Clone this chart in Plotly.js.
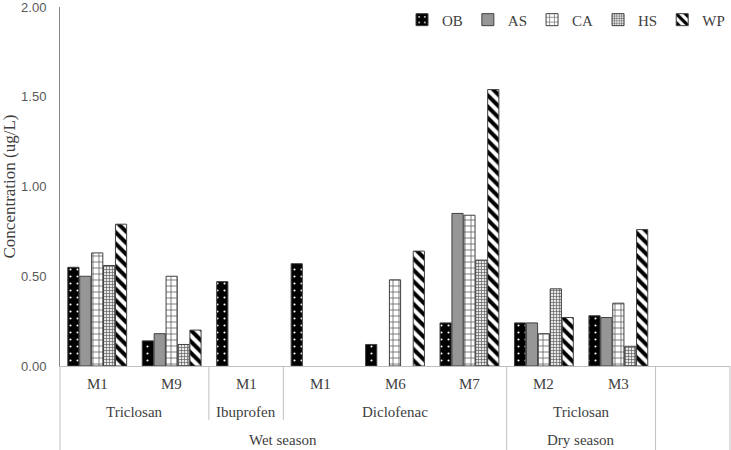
<!DOCTYPE html>
<html>
<head>
<meta charset="utf-8">
<script src="https://cdn.plot.ly/plotly-3.0.1.min.js"></script>
<style>html,body{margin:0;padding:0;background:#fff;}#chart{width:731px;height:450px;}</style>
</head>
<body>
<div id="chart"></div>
<script>
// ---- data ----
const sites   = ['M1','M9','M1','M1','M6','M7','M2','M3',''];
const drugs   = ['Triclosan','Triclosan','Ibuprofen','Diclofenac','Diclofenac','Diclofenac','Triclosan','Triclosan',''];
const seasons = ['Wet season','Wet season','Wet season','Wet season','Wet season','Wet season','Dry season','Dry season',''];
const seriesNames = ['OB','AS','CA','HS','WP'];
const OB = [0.55, 0.14, 0.47, 0.57, 0.12, 0.24, 0.24, 0.28];
const AS = [0.50, 0.18, null, null, null, 0.85, 0.24, 0.27];
const CA = [0.63, 0.50, null, null, 0.48, 0.84, 0.18, 0.35];
const HS = [0.56, 0.12, null, null, null, 0.59, 0.43, 0.11];
const WP = [0.79, 0.20, null, null, 0.64, 1.54, 0.27, 0.76];
const yTicks = [0, 0.5, 1.0, 1.5, 2.0];

// ---- styles ----
const W = 731, H = 450;
const margin = {l: 60, r: 1, t: 7, b: 84, pad: 0};
const plotH = H - margin.t - margin.b;
const serif = 'Liberation Serif, Times New Roman, serif';
const txtColor = '#404040';
const outline = {color: '#404040', width: 1};
const styles = [
  {color: '#000000', pattern: {shape: '.', fgcolor: '#ffffff', bgcolor: '#000000', size: 7, solidity: 0.07, fillmode: 'replace'}},
  {color: '#969696'},
  {color: '#ffffff', pattern: {shape: '+', fgcolor: '#606060', bgcolor: '#ffffff', size: 6, solidity: 0.25, fillmode: 'replace'}},
  {color: '#d0d0d0', pattern: {shape: '+', fgcolor: '#606060', bgcolor: '#e8e8e8', size: 3, solidity: 0.4, fillmode: 'replace'}},
  {color: '#ffffff', pattern: {shape: '\\', fgcolor: '#000000', bgcolor: '#ffffff', size: 8, solidity: 0.5, fillmode: 'replace'}}
];
const allValues = [OB, AS, CA, HS, WP];
const xIdx = OB.map((_, i) => i);

const traces = seriesNames.map((name, k) => {
  const m = Object.assign({line: outline}, styles[k]);
  return {type: 'bar', name: name, x: xIdx, y: allValues[k], marker: m, hoverinfo: 'x+y+name'};
});

// ---- hierarchical x axis labels ----
const nCat = sites.length;
const xMin = -0.5, xMax = nCat - 0.5;
const toPaper = v => (v - xMin) / (xMax - xMin);
const annotations = [];
const shapes = [];
const lineColor = '#bfbfbf';
const siteY = 18, drugY = 46, seasonY = 74, drugLineY = 54, fullLineY = margin.b;

sites.forEach((s, i) => {
  if (s) annotations.push({xref: 'x', yref: 'paper', x: i, y: 0, yshift: -siteY, yanchor: 'middle', showarrow: false, text: s, font: {family: serif, size: 15, color: txtColor}});
});
function runs(keys) {
  const out = []; let start = 0;
  for (let i = 1; i <= keys.length; i++) {
    if (i === keys.length || keys[i] !== keys[start]) { out.push({start, end: i - 1, key: keys[start]}); start = i; }
  }
  return out;
}
const drugRuns = runs(drugs.map((d, i) => seasons[i] + '|' + d));
const seasonRuns = runs(seasons);
drugRuns.forEach(r => {
  const lab = drugs[r.start];
  if (lab) annotations.push({xref: 'x', yref: 'paper', x: (r.start + r.end) / 2, y: 0, yshift: -drugY, yanchor: 'middle', showarrow: false, text: lab, font: {family: serif, size: 15, color: txtColor}});
});
seasonRuns.forEach(r => {
  const lab = r.key;
  if (lab) annotations.push({xref: 'x', yref: 'paper', x: (r.start + r.end) / 2, y: 0, yshift: -seasonY, yanchor: 'middle', showarrow: false, text: lab, font: {family: serif, size: 15, color: txtColor}});
});
const seasonBounds = new Set();
seasonRuns.forEach(r => { seasonBounds.add(r.start - 0.5); seasonBounds.add(r.end + 0.5); });
const drugBounds = new Set();
drugRuns.forEach(r => { drugBounds.add(r.start - 0.5); drugBounds.add(r.end + 0.5); });
seasonBounds.forEach(b => {
  shapes.push({type: 'line', xref: 'paper', yref: 'paper', x0: toPaper(b), x1: toPaper(b), y0: 0, y1: -fullLineY / plotH, line: {color: lineColor, width: 1}});
});
drugBounds.forEach(b => {
  if (!seasonBounds.has(b)) shapes.push({type: 'line', xref: 'paper', yref: 'paper', x0: toPaper(b), x1: toPaper(b), y0: 0, y1: -drugLineY / plotH, line: {color: lineColor, width: 1}});
});

const layout = {
  width: W, height: H, margin: margin,
  paper_bgcolor: '#ffffff', plot_bgcolor: '#ffffff',
  barmode: 'group', bargap: 0.2, bargroupgap: 0.06,
  showlegend: true,
  legend: {orientation: 'h', x: 1.0, xanchor: 'right', y: 1.01, yanchor: 'top', font: {family: serif, size: 15, color: txtColor},
           itemwidth: 30, bgcolor: 'rgba(0,0,0,0)', tracegroupgap: 0},
  xaxis: {range: [xMin, xMax], showticklabels: false, showgrid: false, zeroline: false, showline: true, linecolor: lineColor, linewidth: 1, ticks: '', fixedrange: true},
  yaxis: {range: [0, 2], tickvals: yTicks, tickformat: '.2f', showgrid: false, zeroline: false, showline: true, linecolor: '#868686', linewidth: 1, ticks: '',
          ticklabelstandoff: 10, ticklabeloverflow: 'allow',
          tickfont: {family: 'Liberation Sans, Arial, sans-serif', size: 13, color: '#595959'},
          title: {text: 'Concentration (ug/L)', font: {family: serif, size: 17, color: txtColor}, standoff: 10}},
  annotations: annotations,
  shapes: shapes
};
Plotly.newPlot('chart', traces, layout, {displayModeBar: false, staticPlot: true});
</script>
</body>
</html>
